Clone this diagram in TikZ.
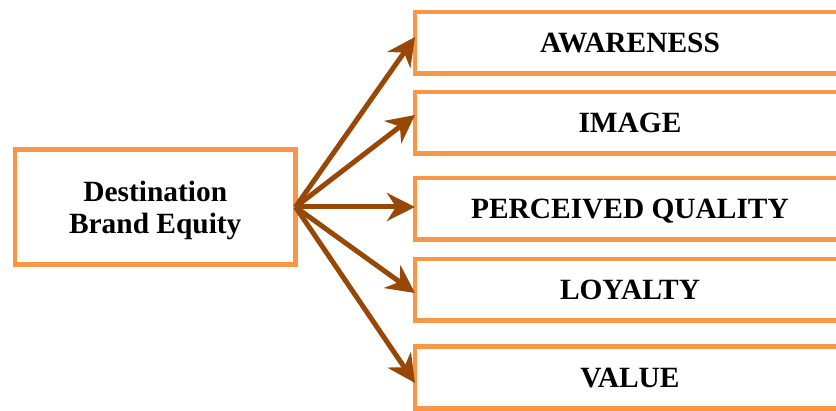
\documentclass[tikz,border=0pt]{standalone}
\usepackage{fontspec}
\setmainfont{Liberation Serif}
\usetikzlibrary{arrows.meta,calc}
\definecolor{boxorange}{HTML}{F79646}
\definecolor{arrowbrown}{HTML}{974806}
\begin{document}
\begin{tikzpicture}[x=1pt,y=1pt,
  box/.style={draw=boxorange, line width=4.5pt, fill=white, outer sep=0pt, inner sep=0pt,
    font=\fontsize{29.4}{32}\selectfont\bfseries},
  cat/.style={box, minimum width=430pt, minimum height=61.5pt, text height=19.5pt, text depth=0pt},
  arr/.style={draw=arrowbrown, line width=5pt, -{Stealth[length=28pt,width=28pt,inset=9pt]}}]
\useasboundingbox (0,0) rectangle (836,410);
\clip (0,0) rectangle (836,410);
\node[box, minimum width=280.5pt, minimum height=115pt, align=center, text depth=0pt] (src) at (155.25,203) {Destination\\Brand Equity};
\node[cat] (b1) at (630,367) {AWARENESS};
\node[cat] (b2) at (630,287) {IMAGE};
\node[cat] (b3) at (630,201) {PERCEIVED QUALITY};
\node[cat] (b4) at (630,120) {LOYALTY};
\node[cat] (b5) at (630,32.5) {VALUE};
\coordinate (t1) at ($(b1.west)+(0,6)$);
\coordinate (t2) at ($(b2.west)+(0,8)$);
\coordinate (t3) at ($(b3.west)+(0,2)$);
\coordinate (t4) at ($(b4.west)+(0,-3)$);
\coordinate (t5) at ($(b5.west)+(0,-5.5)$);
\foreach \t in {t1,t2,t3,t4,t5}
  \draw[arr] (src.east) -- (\t);
\end{tikzpicture}
\end{document}
